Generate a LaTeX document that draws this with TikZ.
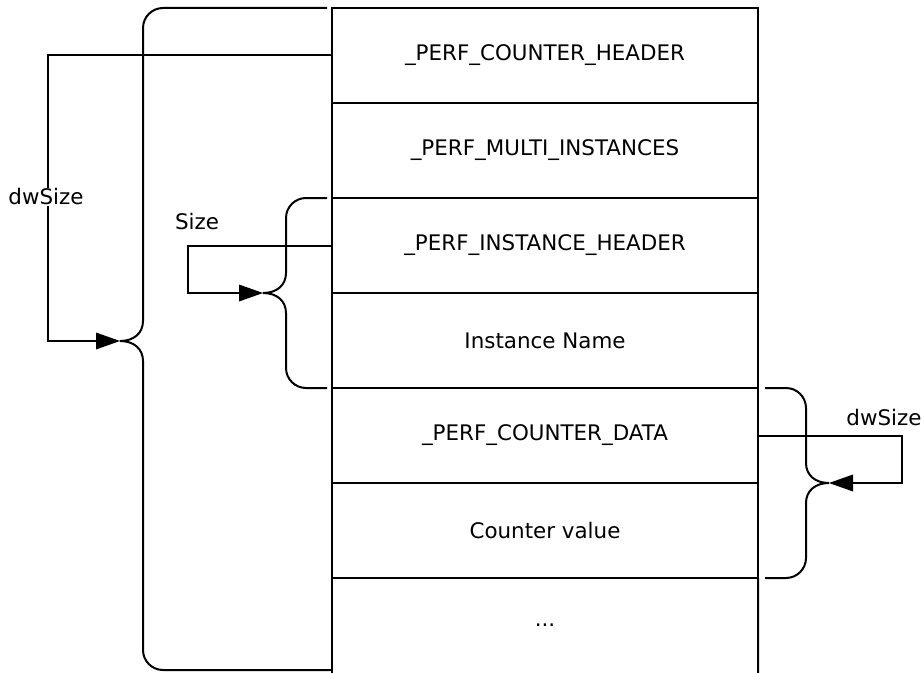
\documentclass[tikz,border=0pt]{standalone}
\usepackage{fontspec}
\setmainfont{DejaVu Sans}
\usetikzlibrary{arrows.meta,calc}
\begin{document}
\begin{tikzpicture}[x=1bp,y=-1bp,line width=2bp,
  row/.style={draw,line width=2bp,minimum width=426bp,minimum height=95bp,inner sep=0pt,outer sep=0pt,
    font=\fontsize{21.5}{25}\selectfont,anchor=north west},
  lbl/.style={font=\fontsize{21.5}{25}\selectfont,inner sep=1pt},
  wire/.style={line width=2bp},
  tipstyle/.style={draw=none,fill=black},
  bracestyle/.style={line width=2bp}]
\useasboundingbox (0,0) rectangle (924,673);
% stacked structure
\node[row] (r1) at (332,8)   {\_PERF\_COUNTER\_HEADER};
\node[row] (r2) at (332,103) {\_PERF\_MULTI\_INSTANCES};
\node[row] (r3) at (332,198) {\_PERF\_INSTANCE\_HEADER};
\node[row] (r4) at (332,293) {Instance Name};
\node[row] (r5) at (332,388) {\_PERF\_COUNTER\_DATA};
\node[row] (r6) at (332,483) {Counter value};
\node[row,draw=none] (r7) at (332,578) {...};
\draw[wire] (r7.north west) -- (332,673);
\draw[wire] (r7.north east) -- (758,673);
% brace tips
\coordinate (tipA) at (120,341);
\coordinate (tipB) at (263,293);
\coordinate (tipC) at (829,483);
% big left brace
\draw[bracestyle] (327,8) -- (163,8) .. controls (152,8) and (143,17) .. (143,28)
  -- (143,321) .. controls (143,333) and (134,341) .. (tipA)
  .. controls (134,341) and (143,349) .. (143,361)
  -- (143,650) .. controls (143,661) and (152,670) .. (163,670) -- (332,670);
% inner left brace
\draw[bracestyle] (327,198) -- (306,198) .. controls (295,198) and (286,207) .. (286,218)
  -- (286,273) .. controls (286,285) and (277,293) .. (tipB)
  .. controls (277,293) and (286,301) .. (286,313)
  -- (286,368) .. controls (286,379) and (295,388) .. (306,388) -- (327,388);
% right brace
\draw[bracestyle] (765,388) -- (786,388) .. controls (797,388) and (806,397) .. (806,408)
  -- (806,463) .. controls (806,475) and (815,483) .. (tipC)
  .. controls (815,483) and (806,491) .. (806,503)
  -- (806,558) .. controls (806,569) and (797,578) .. (786,578) -- (765,578);
% connectors
\draw[wire] (r1.west) -- ++(-284,0) |- ($(tipA)+(-20,0)$);
\draw[wire] (r3.west) -- ++(-144,0) |- ($(tipB)+(-20,0)$);
\draw[wire] (r5.east) -- ++(144,0) |- ($(tipC)+(20,0)$);
% arrowheads
\fill[tipstyle] (tipA) -- ++(-24,-8.5) -- ++(0,17) -- cycle;
\fill[tipstyle] (tipB) -- ++(-24,-8.5) -- ++(0,17) -- cycle;
\fill[tipstyle] (tipC) -- ++(24,-8.5) -- ++(0,17) -- cycle;
% labels
\node[lbl,fill=white] (l1) at (46,197) {dwSize};
\node[lbl] (l2) at (197,222) {Size};
\node[lbl] (l3) at (884,418) {dwSize};
\end{tikzpicture}
\end{document}
